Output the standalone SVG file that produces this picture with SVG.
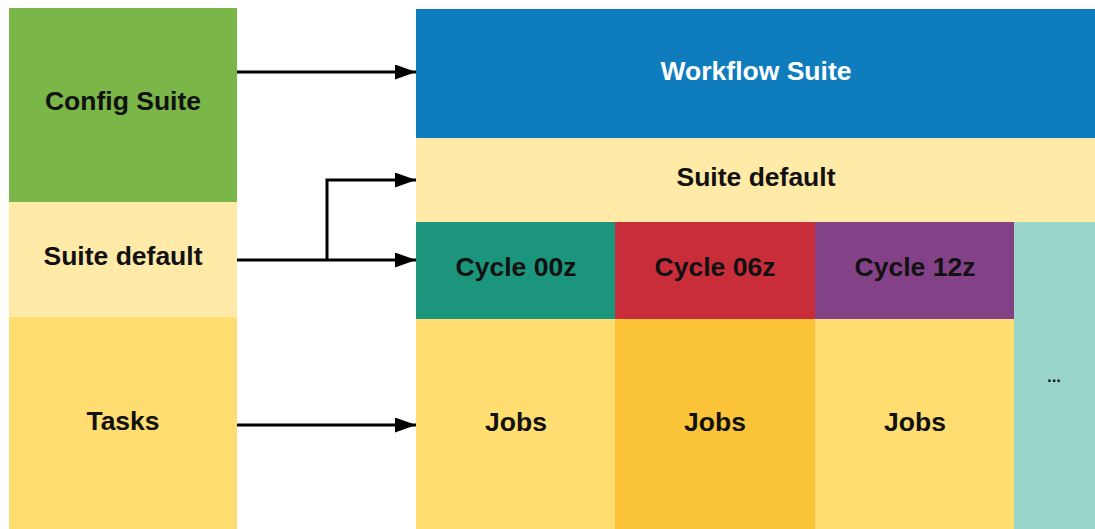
<svg xmlns="http://www.w3.org/2000/svg" width="1095" height="529" viewBox="0 0 1095 529">
  <style>
    .lbl { font-family: "Liberation Sans", Arial, sans-serif; font-weight: bold; font-size: 26.5px; fill: #111; text-anchor: middle; dominant-baseline: central; }
    .white { fill: #ffffff; }
    .dots { font-size: 17px; fill: #1a1a1a; }
    .conn { fill: none; stroke: #000; stroke-width: 3; }
  </style>
  <defs>
    <marker id="arrow" viewBox="0 0 21 15" refX="21" refY="7.5" markerWidth="21" markerHeight="15" markerUnits="userSpaceOnUse" orient="auto">
      <path d="M0,0 L21,7.5 L0,15 Z" fill="#000"/>
    </marker>
  </defs>
  <rect width="1095" height="529" fill="#ffffff"/>

  <!-- left column -->
  <g id="config-suite">
    <rect x="9" y="8" width="228" height="194" fill="#7ab648"/>
    <text class="lbl" x="123" y="101">Config Suite</text>
  </g>
  <g id="suite-default-left">
    <rect x="9" y="202" width="228" height="115" fill="#ffeaa7"/>
    <text class="lbl" x="123" y="256">Suite default</text>
  </g>
  <g id="tasks">
    <rect x="9" y="317" width="228" height="212" fill="#ffdd71"/>
    <text class="lbl" x="123" y="421">Tasks</text>
  </g>

  <!-- right stack -->
  <g id="workflow-suite">
    <rect x="416" y="9" width="679" height="129" fill="#0f7dbd"/>
    <text class="lbl white" x="756" y="71">Workflow Suite</text>
  </g>
  <g id="suite-default-right">
    <rect x="416" y="138" width="679" height="84" fill="#ffeaa7"/>
    <text class="lbl" x="756" y="177">Suite default</text>
  </g>
  <g id="cycle-00z">
    <rect x="416" y="222" width="199" height="97" fill="#1b957c"/>
    <text class="lbl" x="516" y="267">Cycle 00z</text>
  </g>
  <g id="cycle-06z">
    <rect x="615" y="222" width="200" height="97" fill="#c92d39"/>
    <text class="lbl" x="715" y="267">Cycle 06z</text>
  </g>
  <g id="cycle-12z">
    <rect x="815" y="222" width="199" height="97" fill="#834187"/>
    <text class="lbl" x="915" y="267">Cycle 12z</text>
  </g>
  <g id="more">
    <rect x="1014" y="222" width="81" height="307" fill="#9ad5ca"/>
    <text class="lbl dots" x="1054" y="376">...</text>
  </g>
  <g id="jobs-00z">
    <rect x="416" y="319" width="199" height="210" fill="#ffdd71"/>
    <text class="lbl" x="516" y="422">Jobs</text>
  </g>
  <g id="jobs-06z">
    <rect x="615" y="319" width="200" height="210" fill="#fcc438"/>
    <text class="lbl" x="715" y="422">Jobs</text>
  </g>
  <g id="jobs-12z">
    <rect x="815" y="319" width="199" height="210" fill="#ffdd71"/>
    <text class="lbl" x="915" y="422">Jobs</text>
  </g>

  <!-- connectors -->
  <g id="connectors">
    <path class="conn" d="M237,72 L416,72" marker-end="url(#arrow)"/>
    <path class="conn" d="M237,260 L416,260" marker-end="url(#arrow)"/>
    <path class="conn" d="M327,260 L327,180 L416,180" marker-end="url(#arrow)"/>
    <path class="conn" d="M237,425 L416,425" marker-end="url(#arrow)"/>
  </g>
</svg>
